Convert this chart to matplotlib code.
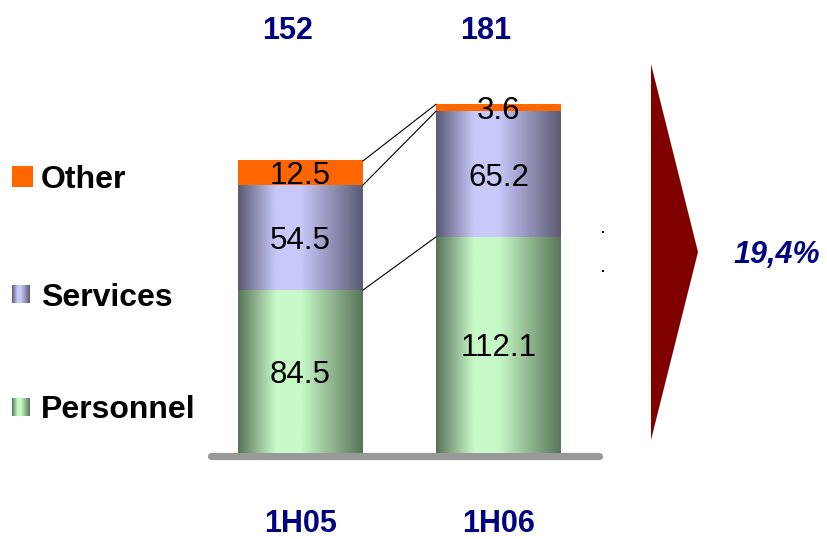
import matplotlib

matplotlib.use("Agg")
import matplotlib.pyplot as plt
import numpy as np
from matplotlib import transforms
from matplotlib.colors import to_rgb
from matplotlib.patches import Polygon, Rectangle

plt.rcParams["font.family"] = ["Liberation Sans", "DejaVu Sans"]

periods = ["1H05", "1H06"]
series = ["Personnel", "Services", "Other"]
personnel = [84.5, 112.1]
services = [54.5, 65.2]
other = [12.5, 3.6]
totals = [152, 181]
growth = "19,4%"

NAVY = "#000080"
# (edge colour, centre colour) of the cylinder-ish shading
styles = {
    "Personnel": ("#5A765A", "#C8FAC8"),
    "Services": ("#5C5C76", "#C8C8FA"),
    "Other": ("#FF6600", "#FF6600"),
}


def gradient(edge, mid, n=64):
    t = np.linspace(0, 1, n)
    w = np.interp(t, [0, 0.3, 0.5, 1], [0, 1, 1, 0])
    e = np.array(to_rgb(edge))
    m = np.array(to_rgb(mid))
    row = e[None, :] * (1 - w[:, None]) + m[None, :] * w[:, None]
    return row[None, :, :]


fig = plt.figure(figsize=(8.27, 5.39), dpi=100)
fig.patch.set_facecolor("white")

ax = fig.add_axes([0.2551, 0.1596, 0.4692, 0.8404])
xlim, ylim = (-0.452, 1.5076), (0, 235)

x = np.arange(len(periods))
width = 0.631
bottom = np.zeros(len(periods))
tops = []
for name, vals in zip(series, [personnel, services, other]):
    edge, mid = styles[name]
    img = gradient(edge, mid)
    bars = ax.bar(x, vals, width, bottom=bottom, color="none", edgecolor="none")
    for rect, v, b in zip(bars, vals, bottom):
        x0 = rect.get_x()
        ax.imshow(img, extent=(x0, x0 + rect.get_width(), b, b + v),
                  aspect="auto", zorder=2, interpolation="bilinear")
        ax.text(x0 + rect.get_width() / 2, b + v / 2, f"{v:.1f}", ha="center",
                va="center_baseline", fontsize=22.5, zorder=4)
    bottom = bottom + np.array(vals)
    tops.append(bottom.copy())

# connector lines between segment boundaries
for top in tops:
    ax.plot([x[0] + width / 2, x[1] - width / 2], [top[0], top[1]],
            color="black", lw=0.8, zorder=3)

# baseline
shift = transforms.ScaledTranslation(0, -3.5 / 100, fig.dpi_scale_trans)
ax.plot(xlim, [0, 0], color="#999999", lw=5.2, solid_capstyle="round",
        transform=ax.transData + shift, zorder=1, clip_on=False)

for i, (t, p) in enumerate(zip(totals, periods)):
    ax.text(i - 0.066, 0.94, str(t), transform=ax.get_xaxis_transform(),
            ha="center", va="center_baseline", fontsize=22, fontweight="bold", color=NAVY)
    ax.text(i, -0.150, p, transform=ax.get_xaxis_transform(),
            ha="center", va="center_baseline", fontsize=22, fontweight="bold", color=NAVY)

ax.set_xlim(*xlim)
ax.set_ylim(*ylim)
ax.axis("off")

# overlay in pixel space for legend, arrow and growth label
ov = fig.add_axes([0, 0, 1, 1], zorder=-1)
ov.set_xlim(0, 827)
ov.set_ylim(539, 0)
ov.axis("off")

legend_rows = [("Other", 177, 21), ("Services", 294, 18), ("Personnel", 407, 18)]
for name, yc, size in legend_rows:
    edge, mid = styles[name]
    ov.imshow(gradient(edge, mid), extent=(12, 12 + size, yc + size / 2, yc - size / 2),
              aspect="auto", interpolation="bilinear")
    ov.text(41, yc, name, ha="left", va="center_baseline", fontsize=23, fontweight="bold")

ov.add_patch(Polygon([(651, 64), (698, 252), (651, 440)], closed=True,
                     facecolor="#800000", edgecolor="none"))
ov.text(777, 252, growth, ha="center", va="center_baseline", fontsize=22,
        fontweight="bold", fontstyle="italic", color=NAVY)
for yd in (232, 271):
    ov.add_patch(Rectangle((602, yd - 1), 2, 2, facecolor="black", edgecolor="none"))
ov.set_xlim(0, 827)
ov.set_ylim(539, 0)

fig.savefig("out.png", dpi=100)
